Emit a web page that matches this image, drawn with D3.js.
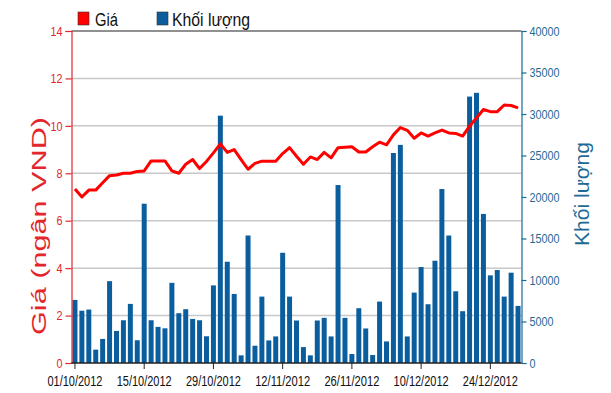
<!DOCTYPE html>
<html><head><meta charset="utf-8">
<script src="https://cdn.jsdelivr.net/npm/d3@7"></script>
<style>
html,body{margin:0;padding:0;background:#fff;}
svg{display:block;}
</style></head>
<body>
<svg id="chart" width="611" height="393"></svg>
<script>
const dates = [
"01/10/2012","02/10/2012","03/10/2012","04/10/2012","05/10/2012",
"08/10/2012","09/10/2012","10/10/2012","11/10/2012","12/10/2012",
"15/10/2012","16/10/2012","17/10/2012","18/10/2012","19/10/2012",
"22/10/2012","23/10/2012","24/10/2012","25/10/2012","26/10/2012",
"29/10/2012","30/10/2012","31/10/2012","01/11/2012","02/11/2012",
"05/11/2012","06/11/2012","07/11/2012","08/11/2012","09/11/2012",
"12/11/2012","13/11/2012","14/11/2012","15/11/2012","16/11/2012",
"19/11/2012","20/11/2012","21/11/2012","22/11/2012","23/11/2012",
"26/11/2012","27/11/2012","28/11/2012","29/11/2012","30/11/2012",
"03/12/2012","04/12/2012","05/12/2012","06/12/2012","07/12/2012",
"10/12/2012","11/12/2012","12/12/2012","13/12/2012","14/12/2012",
"17/12/2012","18/12/2012","19/12/2012","20/12/2012","21/12/2012",
"24/12/2012","25/12/2012","26/12/2012","27/12/2012","28/12/2012"];

const volume = [
7600,6300,6440,1610,2900,9860,3860,5150,7120,2740,
19190,5150,4350,4180,9660,6000,6480,5310,5150,3220,
9350,29800,12200,8320,920,15360,2080,8000,2720,3200,
13280,8000,5120,1920,920,5120,5440,3200,21440,5440,
1080,6600,4160,960,7400,2600,25300,26280,3200,8480,
11560,7080,12320,20960,15360,8640,6240,32100,32550,17960,
10560,11200,8000,10880,6880];

const price = [
7.34,7.0,7.29,7.29,7.6,7.9,7.93,8.0,8.0,8.08,
8.1,8.52,8.52,8.52,8.1,8.0,8.38,8.58,8.2,8.5,
8.86,9.24,8.88,9.0,8.58,8.17,8.42,8.51,8.51,8.51,
8.83,9.08,8.72,8.38,8.69,8.58,8.88,8.65,9.08,9.1,
9.12,8.9,8.9,9.12,9.31,9.2,9.62,9.93,9.81,9.48,
9.7,9.57,9.7,9.82,9.7,9.68,9.57,9.99,10.33,10.69,
10.6,10.6,10.88,10.86,10.76];

const xTickLabels = ["01/10/2012","15/10/2012","29/10/2012","12/11/2012","26/11/2012","10/12/2012","24/12/2012"];
const priceTicks = [0,2,4,6,8,10,12,14];
const volumeTicks = [0,5000,10000,15000,20000,25000,30000,35000,40000];
const legendLabels = ["Giá","Khối lượng"];
const titleLeft = "Giá (ngân VND)";
const titleRight = "Khối lượng";

const RED = "#ff0000", AXRED = "#e3262b", BAR = "#0b5e9e", AXBLUE = "#1d6a94";
const L = 71.5, R = 521.5, T = 31, B = 363;
const svg = d3.select("#chart");
const font = "'Liberation Sans',Arial,sans-serif";

const x = d3.scaleBand().domain(dates).range([L, R]).paddingInner(0.28).paddingOuter(0.14);
const yP = d3.scaleLinear().domain([0, 14]).range([B, T]);
const yV = d3.scaleLinear().domain([0, 40000]).range([B, T]);

// grid
svg.append("g").selectAll("line").data(priceTicks.filter(d => d > 0 && d < 14)).join("line")
  .attr("x1", L).attr("x2", R).attr("y1", d => yP(d)).attr("y2", d => yP(d))
  .attr("stroke", "#c8c8c8").attr("stroke-width", 1.5);
// top border
svg.append("line").attr("x1", L).attr("x2", R).attr("y1", T).attr("y2", T)
  .attr("stroke", "#222").attr("stroke-width", 1.2);

// bars
svg.append("g").selectAll("rect").data(volume).join("rect")
  .attr("x", (d, i) => x(dates[i])).attr("width", x.bandwidth())
  .attr("y", d => yV(d)).attr("height", d => B - yV(d)).attr("fill", BAR);

// line
const line = d3.line().x((d, i) => x(dates[i]) + x.bandwidth() / 2).y(d => yP(d));
svg.append("path").datum(price).attr("d", line).attr("fill", "none")
  .attr("stroke", RED).attr("stroke-width", 3).attr("stroke-linejoin", "round");

// left axis
const axL = svg.append("g").attr("transform", `translate(${L},0)`)
  .call(d3.axisLeft(yP).tickValues(priceTicks).tickSize(6).tickPadding(3).tickFormat(d3.format("d")));
axL.select(".domain").attr("stroke", AXRED).attr("stroke-width", 1.2);
axL.selectAll(".tick line").attr("stroke", AXRED).attr("stroke-width", 1.2);
axL.selectAll(".tick text").attr("fill", AXRED).style("font-family", font).style("font-size", "13px")
  .attr("textLength", d => String(d).length * 6).attr("lengthAdjust", "spacingAndGlyphs");

// right axis
const axR = svg.append("g").attr("transform", `translate(${R},0)`)
  .call(d3.axisRight(yV).tickValues(volumeTicks).tickSize(5).tickPadding(3).tickFormat(d3.format("d")));
axR.select(".domain").attr("stroke", AXBLUE).attr("stroke-width", 1.2);
axR.selectAll(".tick line").attr("stroke", AXBLUE).attr("stroke-width", 1.2);
axR.selectAll(".tick text").attr("fill", AXBLUE).style("font-family", font).style("font-size", "13px")
  .attr("textLength", d => String(d).length * 6).attr("lengthAdjust", "spacingAndGlyphs");

// bottom axis
const xTickPos = xTickLabels.map(l => x(l) + x.bandwidth() / 2);
const xs = d3.scaleOrdinal().domain(xTickLabels).range(xTickPos);
const axB = svg.append("g").attr("transform", `translate(0,${B})`);
axB.append("line").attr("x1", L).attr("x2", R).attr("y1", 0).attr("y2", 0).attr("stroke", "#222").attr("stroke-width", 1.5);
const tk = axB.selectAll("g.t").data(xTickLabels).join("g").attr("class", "t")
  .attr("transform", d => `translate(${xs(d)},0)`);
tk.append("line").attr("y1", 0).attr("y2", 6).attr("stroke", "#222");
tk.append("text").attr("y", 23).attr("text-anchor", "middle").attr("fill", "#111")
  .style("font-family", font).style("font-size", "14px")
  .attr("textLength", 55).attr("lengthAdjust", "spacingAndGlyphs").text(d => d);

// titles
svg.append("text").attr("transform", "translate(46,226) rotate(-90)").attr("text-anchor", "middle")
  .attr("fill", AXRED).style("font-family", font).style("font-size", "21px")
  .attr("textLength", 218).attr("lengthAdjust", "spacingAndGlyphs").text(titleLeft);
svg.append("text").attr("transform", "translate(589,194) rotate(-90)").attr("text-anchor", "middle")
  .attr("fill", AXBLUE).style("font-family", font).style("font-size", "20px")
  .attr("textLength", 104).attr("lengthAdjust", "spacingAndGlyphs").text(titleRight);

// legend
const leg = [{c: RED, x: 78, tx: 95, w: 23}, {c: BAR, x: 157, tx: 172, w: 78}];
const lg = svg.append("g").selectAll("g").data(legendLabels).join("g");
lg.append("rect").attr("x", (d, i) => leg[i].x).attr("y", 12).attr("width", 11).attr("height", 13)
  .attr("fill", (d, i) => leg[i].c).attr("stroke", "#333").attr("stroke-width", 0.6);
lg.append("text").attr("x", (d, i) => leg[i].tx).attr("y", 26).attr("fill", "#111")
  .style("font-family", font).style("font-size", "18px")
  .attr("textLength", (d, i) => leg[i].w).attr("lengthAdjust", "spacingAndGlyphs").text(d => d);
</script>
</body></html>
